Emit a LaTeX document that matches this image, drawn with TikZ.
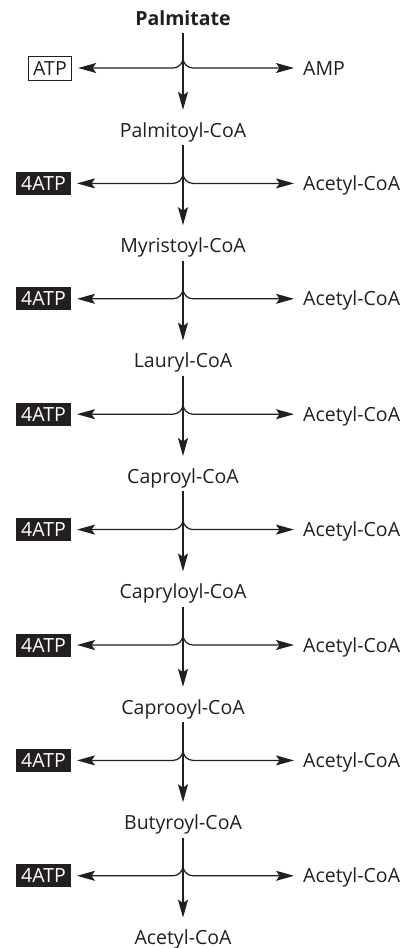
\documentclass[tikz,border=0pt]{standalone}
\usepackage{fontspec}
\setmainfont{Open Sans}
\usetikzlibrary{arrows.meta}
\definecolor{ink}{HTML}{231F20}
\newcommand{\fs}{\fontsize{19.5}{22}\selectfont}
\begin{document}
\begin{tikzpicture}[x=1pt,y=-1pt,
  ln/.style={draw=ink, line width=1.25pt},
  arr/.style={ln, -{Stealth[length=18pt,width=10pt,inset=3.5pt]}},
  chem/.style={font=\fs, text=ink, inner sep=0pt, text height=14pt, text depth=0pt, minimum height=30pt},
  prod/.style={font=\fs, text=ink, inner sep=0pt, text height=14pt, text depth=0pt, anchor=west},
  atpbox/.style={font=\fs, text=ink, draw=ink, line width=0.8pt, inner xsep=5pt, inner ysep=5pt, text height=14pt, text depth=0pt},
  quadbox/.style={font=\fs, text=white, fill=ink, inner xsep=5pt, inner ysep=4.5pt, text height=14pt, text depth=0pt}
]
\path[use as bounding box] (0,0) rectangle (405,948);
\node[chem, font=\fs\bfseries] (L0) at (183,18) {Palmitate};
\foreach \n [count=\k] in {Palmitoyl-CoA,Myristoyl-CoA,Lauryl-CoA,Caproyl-CoA,Capryloyl-CoA,Caprooyl-CoA,Butyroyl-CoA,Acetyl-CoA}{
  \pgfmathsetmacro{\yy}{68+115.4*(\k-1)+62}
  \node[chem] (L\k) at (183,\yy) {\n};
}
\foreach \k in {0,...,7}{
  \pgfmathsetmacro{\rr}{68+115.4*\k}
  \pgfmathtruncatemacro{\nx}{\k+1}
  \coordinate (J\k) at (183,\rr-10);
  \ifnum\k=0
    \node[atpbox] (A\k) at (50,\rr) {ATP};
    \node[prod] (R\k) at (303,\rr) {AMP};
  \else
    \node[quadbox] (A\k) at (43.5,\rr) {4ATP};
    \node[prod] (R\k) at (303,\rr) {Acetyl-CoA};
  \fi
  \draw[arr, shorten >=5pt] (L\k) -- (L\nx);
  \draw[arr, shorten >=6pt] (J\k) .. controls +(0,5.5) and +(5.5,0) .. ++(-10,10) -- (A\k);
  \draw[arr, shorten >=9pt] (J\k) .. controls +(0,5.5) and +(-5.5,0) .. ++(10,10) -- (R\k);
}
\end{tikzpicture}
\end{document}
